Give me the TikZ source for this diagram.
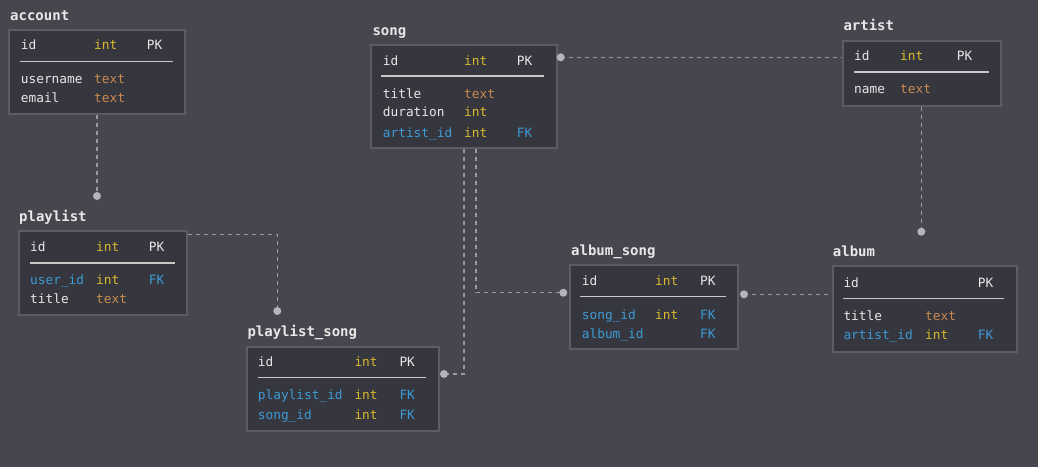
\documentclass[tikz,border=0pt]{standalone}
\usepackage{fontspec}
\setmonofont{DejaVu Sans Mono}
\usepackage{tikz}
\definecolor{bg}{HTML}{46464E}
\definecolor{boxfill}{HTML}{36363E}
\definecolor{boxline}{HTML}{5C5C66}
\definecolor{nmcol}{HTML}{E8E8E8}
\definecolor{intcol}{HTML}{D9B92E}
\definecolor{txtcol}{HTML}{C98A4E}
\definecolor{fkcol}{HTML}{3D9BD6}
\definecolor{divcol}{HTML}{C8C8C8}
\definecolor{linkcol}{HTML}{9A9AA2}
\definecolor{dotcol}{HTML}{B4B4BC}
\def\r{4pt}
\def\v{circle (\r)}
\def\cellfont{\fontsize{12.8}{14}\selectfont\ttfamily}
\tikzset{
  tbl/.style={draw=boxline, fill=boxfill, line width=2pt, anchor=north west, inner sep=0pt},
  ttl/.style={anchor=base west, inner sep=0pt, text=nmcol, font=\fontsize{14}{16}\selectfont\ttfamily\bfseries},
  nm/.style={anchor=base west, inner sep=0pt, text=nmcol, font=\cellfont},
  ty/.style={nm, text=intcol},
  tx/.style={nm, text=txtcol},
  fk/.style={nm, text=fkcol},
  div/.style={draw=divcol, line width=1.5pt},
  link/.style={draw=linkcol, line width=1.5pt, dash pattern=on 4pt off 4pt},
}

\begin{document}
\begin{tikzpicture}[x=1pt, y=-1pt]
\fill[bg] (0,0) rectangle (1038,467);
\useasboundingbox (0,0) rectangle (1038,467);

% tables
\node[tbl, minimum width=175.7pt, minimum height=84pt] (account) at (8.3,29.3) {};
\node[tbl, minimum width=168pt, minimum height=84pt] (playlist) at (18.3,230.3) {};
\node[tbl, minimum width=185.7pt, minimum height=103pt] (song) at (370,43.7) {};
\node[tbl, minimum width=157.7pt, minimum height=65pt] (artist) at (842.3,39.7) {};
\node[tbl, minimum width=184pt, minimum height=85.4pt] (album) at (831.7,265.3) {};
\node[tbl, minimum width=168pt, minimum height=83.7pt] (albumsong) at (569.3,264.3) {};
\node[tbl, minimum width=192pt, minimum height=84pt] (playlistsong) at (246,346) {};

% titles
\node[ttl] (account-t) at (10,20) {account};
\node[ttl] (playlist-t) at (19,221.7) {playlist};
\node[ttl] (song-t) at (372.3,35.7) {song};
\node[ttl] (artist-t) at (843.3,30) {artist};
\node[ttl] (album-t) at (832.7,256.7) {album};
\node[ttl] (albumsong-t) at (571,255.7) {album\_song};
\node[ttl] (playlistsong-t) at (247.3,336.7) {playlist\_song};

% dividers
\draw[div] (20,61.3) -- (172.7,61.3);
\draw[div] (30,263) -- (175,263);
\draw[div] (381,76) -- (543.7,76);
\draw[div] (854,72) -- (988.7,72);
\draw[div] (843.3,298.7) -- (1004,298.7);
\draw[div] (580,296.7) -- (726,296.7);
\draw[div] (257.7,377.7) -- (425.7,377.7);

% rows
\foreach \a/\b/\s/\w [count=\i] in {20.7/49/nm/id, 94/49/ty/int, 146.7/49/nm/PK,
  20.7/83.3/nm/username, 94/83.3/tx/text, 20.7/102.3/nm/email, 94/102.3/tx/text}{
  \node[\s] (account-\i) at (\a,\b) {\w};
}
\foreach \a/\b/\s/\w [count=\i] in {30/251.7/nm/id, 96/251.7/ty/int, 148.7/251.7/nm/PK,
  30/284.3/fk/user\_id, 96/284.3/ty/int, 148.7/284.3/fk/FK, 30/303.3/nm/title, 96/303.3/tx/text}{
  \node[\s] (playlist-\i) at (\a,\b) {\w};
}
\foreach \a/\b/\s/\w [count=\i] in {382.7/65.3/nm/id, 464/65.3/ty/int, 516.7/65.3/nm/PK,
  382.7/98/nm/title, 464/98/tx/text, 382.7/116.7/nm/duration, 464/116.7/ty/int,
  382.7/137.3/fk/artist\_id, 464/137.3/ty/int, 516.7/137.3/fk/FK}{
  \node[\s] (song-\i) at (\a,\b) {\w};
}
\foreach \a/\b/\s/\w [count=\i] in {854/60/nm/id, 900/60/ty/int, 956.7/60/nm/PK,
  854/93.3/nm/name, 900/93.3/tx/text}{
  \node[\s] (artist-\i) at (\a,\b) {\w};
}
\foreach \a/\b/\s/\w [count=\i] in {843.3/287.3/nm/id, 977.7/287.3/nm/PK,
  843.3/320/nm/title, 925/320/tx/text, 843.3/339/fk/artist\_id, 925/339/ty/int, 977.7/339/fk/FK}{
  \node[\s] (album-\i) at (\a,\b) {\w};
}
\foreach \a/\b/\s/\w [count=\i] in {581.7/285.3/nm/id, 655/285.3/ty/int, 700/285.3/nm/PK,
  581.7/319/fk/song\_id, 655/319/ty/int, 700/319/fk/FK, 581.7/338.3/fk/album\_id, 700/338.3/fk/FK}{
  \node[\s] (albumsong-\i) at (\a,\b) {\w};
}
\foreach \a/\b/\s/\w [count=\i] in {257.7/366/nm/id, 354.3/366/ty/int, 399.3/366/nm/PK,
  257.7/399.3/fk/playlist\_id, 354.3/399.3/ty/int, 399.3/399.3/fk/FK,
  257.7/419/fk/song\_id, 354.3/419/ty/int, 399.3/419/fk/FK}{
  \node[\s] (playlistsong-\i) at (\a,\b) {\w};
}

% links
\coordinate (d1) at (97,196);
\coordinate (d2) at (277.3,311);
\coordinate (d3) at (560.7,57.3);
\coordinate (d4) at (921.3,231.7);
\coordinate (d5) at (563.3,292.7);
\coordinate (d6) at (444,374);
\coordinate (d7) at (744,294.3);

\draw[link] (account.south -| d1) -- (d1);
\draw[link] ([yshift=-4pt]playlist.north east) -| (d2);
\draw[link] (d3) -- (d3 -| artist.west);
\draw[link] (artist.south -| d4) -- (d4);
\draw[link] ([xshift=12pt]song.south) |- (d5);
\draw[link] (song.south) |- (d6);
\draw[link] (d7) -- (d7 -| album.west);

\foreach \x in {(d1), (d2), (d3), (d4), (d5), (d6), (d7)}{
	\fill[dotcol] \x \v;
}
\end{tikzpicture}
\end{document}
